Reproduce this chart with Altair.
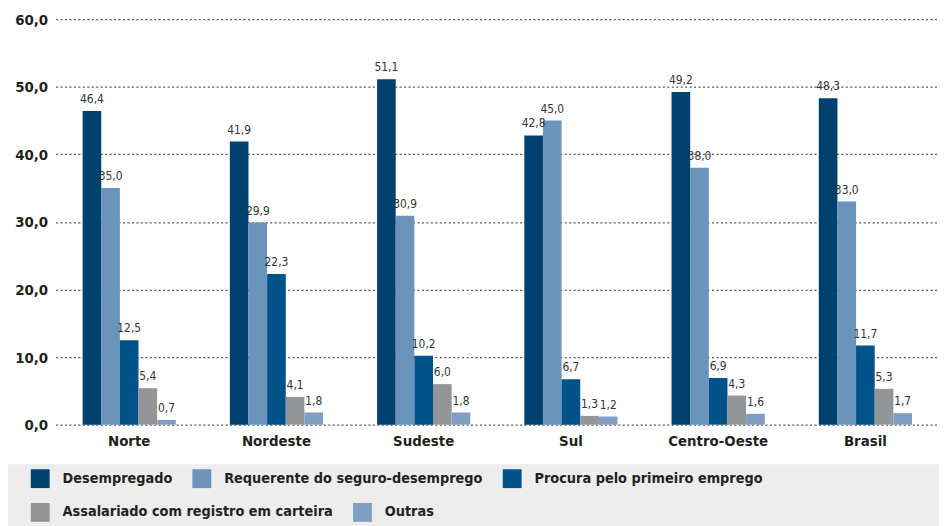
import altair as alt
import pandas as pd

regions = ["Norte", "Nordeste", "Sudeste", "Sul", "Centro-Oeste", "Brasil"]
series = [
    "Desempregado",
    "Requerente do seguro-desemprego",
    "Procura pelo primeiro emprego",
    "Assalariado com registro em carteira",
    "Outras",
]
colors = ["#00416e", "#6b94bd", "#00528a", "#939598", "#7f9fc2"]

desempregado = [46.4, 41.9, 51.1, 42.8, 49.2, 48.3]
requerente = [35.0, 29.9, 30.9, 45.0, 38.0, 33.0]
procura = [12.5, 22.3, 10.2, 6.7, 6.9, 11.7]
assalariado = [5.4, 4.1, 6.0, 1.3, 4.3, 5.3]
outras = [0.7, 1.8, 1.8, 1.2, 1.6, 1.7]

values = [desempregado, requerente, procura, assalariado, outras]
rows = []
for s, vals in zip(series, values):
    for r, v in zip(regions, vals):
        rows.append({"regiao": r, "serie": s, "valor": v,
                     "rotulo": f"{v:.1f}".replace(".", ",")})
df = pd.DataFrame(rows)

FONT = "DejaVu Sans Condensed, sans-serif"
INK = "#231f20"

x_enc = alt.X("regiao:N", sort=regions, title=None,
              scale=alt.Scale(paddingInner=0.367, paddingOuter=0.1835),
              axis=alt.Axis(domain=False, ticks=False, labelAngle=0,
                            labelFont=FONT, labelFontSize=15, labelFontWeight="bold",
                            labelColor=INK, labelPadding=9))
xo_enc = alt.XOffset("serie:N", sort=series,
                     scale=alt.Scale(domain=series, paddingInner=0, paddingOuter=0))
y_enc = alt.Y("valor:Q", title=None,
              scale=alt.Scale(domain=[0, 60], nice=False),
              axis=alt.Axis(values=[0, 10, 20, 30, 40, 50, 60], domain=False, ticks=False,
                            labelExpr="replace(format(datum.value, '.1f'), '.', ',')",
                            labelFont=FONT, labelFontSize=15, labelFontWeight="bold",
                            labelColor=INK, labelPadding=8,
                            grid=True, gridDash=[2, 2.5], gridColor="#555",
                            gridWidth=1.3))


def legend(x, y):
    return alt.Legend(title=None, orient="none", legendX=x, legendY=y,
                      direction="horizontal",
                      symbolType="square", symbolSize=361,
                      symbolStrokeWidth=0, symbolOpacity=1,
                      labelFont=FONT, labelFontSize=14.5,
                      labelFontWeight="bold", labelColor=INK,
                      labelOffset=13, columnPadding=20, labelLimit=500)


s1, c1 = series[:3], colors[:3]
s2, c2 = series[3:], colors[3:]

bars1 = alt.Chart(df).transform_filter(
    alt.FieldOneOfPredicate(field="serie", oneOf=s1)
).mark_bar().encode(
    x=x_enc, xOffset=xo_enc, y=y_enc,
    color=alt.Color("serie:N", sort=s1, scale=alt.Scale(domain=s1, range=c1),
                    legend=legend(-25, 454)),
)

bars2 = alt.Chart(df).transform_filter(
    alt.FieldOneOfPredicate(field="serie", oneOf=s2)
).mark_bar().encode(
    x=x_enc, xOffset=xo_enc, y=y_enc,
    color=alt.Color("serie:N", sort=s2, scale=alt.Scale(domain=s2, range=c2),
                    legend=legend(-25, 488)),
)

text = alt.Chart(df).mark_text(baseline="bottom", dy=-5, font=FONT, fontSize=12,
                               color="#333333").encode(
    x=x_enc, xOffset=xo_enc, y=y_enc, text="rotulo:N")

bg = alt.Chart(pd.DataFrame({"a": [0]})).mark_rect(color="#ededed").encode(
    x=alt.value(-49), x2=alt.value(891), y=alt.value(449), y2=alt.value(512)
)

chart = alt.layer(bg, bars1, bars2, text).resolve_scale(
    color="independent"
).properties(
    width=891, height=409,
    autosize=alt.AutoSizeParams(type="none"),
    padding={"left": 48, "top": 9, "right": 0, "bottom": 100},
).configure_view(stroke=None)

chart.save("out.html", embed_options={"renderer": "svg", "actions": False})
